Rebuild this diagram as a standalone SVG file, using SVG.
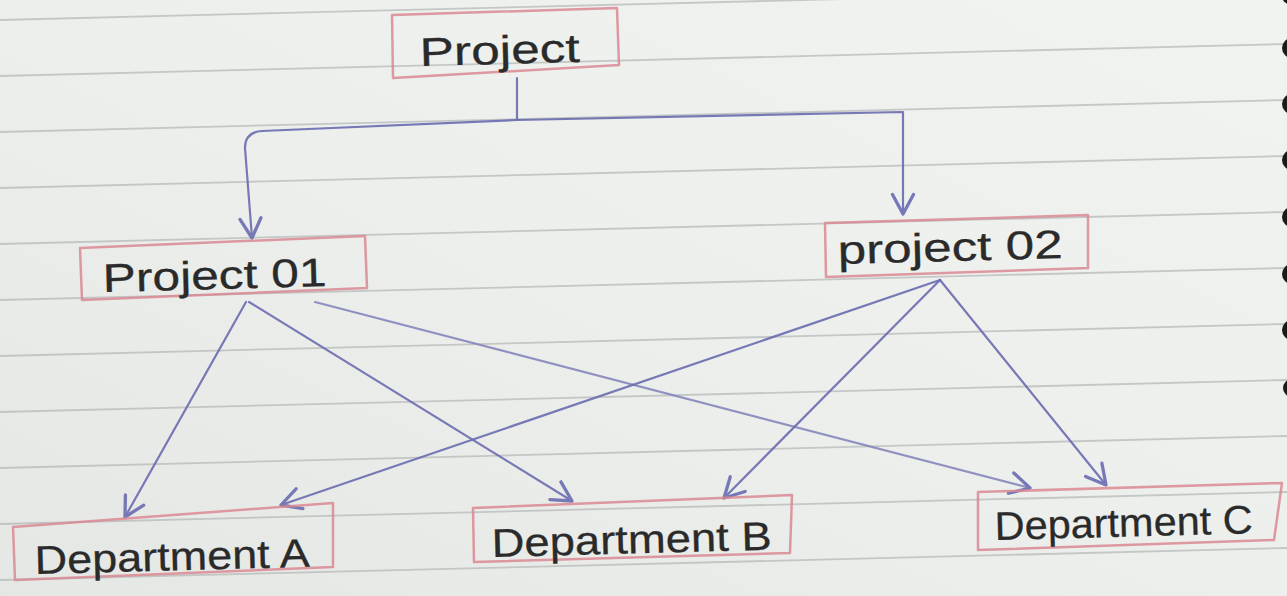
<svg xmlns="http://www.w3.org/2000/svg" width="1287" height="596" viewBox="0 0 1287 596">
  <defs>
    <linearGradient id="paper" x1="0" y1="1" x2="1" y2="0">
      <stop offset="0" stop-color="#e5e7e4"/>
      <stop offset="0.5" stop-color="#edefec"/>
      <stop offset="1" stop-color="#f1f3f0"/>
    </linearGradient>
    <marker id="vhead" markerUnits="userSpaceOnUse" markerWidth="30" markerHeight="30" viewBox="-16 -10 20 20" refX="0" refY="0" orient="auto">
      <path d="M-13,-7 L0,0 L-13,7" fill="none" stroke="#6a6db0" stroke-width="2.2" stroke-linecap="round" stroke-linejoin="round"/>
    </marker>
    <style>
      .rule { stroke: #b6bab9; stroke-width: 1.8; opacity: 0.75; }
      .box { fill: none; stroke: #d98893; stroke-width: 2.5; stroke-linejoin: round; opacity: 0.85; }
      .label { font-family: "Liberation Sans", Arial, sans-serif; font-size: 40px; fill: #2a2a2a; stroke: #2a2a2a; stroke-width: 0.3; }
      .ink { fill: none; stroke: #6a6db0; stroke-width: 2.2; stroke-linecap: round; stroke-linejoin: round; opacity: 0.9; }
      .ink-light { stroke: #8587bd; }
      .hole { fill: #1b1b1b; }
    </style>
  </defs>

  <!-- notebook page -->
  <rect x="0" y="0" width="1287" height="596" fill="url(#paper)"/>

  <!-- ruled lines, slightly tilted with the page -->
  <g id="ruling">
    <line class="rule" x1="0" y1="20" x2="1287" y2="-12"/>
    <line class="rule" x1="0" y1="76" x2="1287" y2="44"/>
    <line class="rule" x1="0" y1="132" x2="1287" y2="100"/>
    <line class="rule" x1="0" y1="188" x2="1287" y2="156"/>
    <line class="rule" x1="0" y1="244" x2="1287" y2="212"/>
    <line class="rule" x1="0" y1="300" x2="1287" y2="268"/>
    <line class="rule" x1="0" y1="356" x2="1287" y2="324"/>
    <line class="rule" x1="0" y1="412" x2="1287" y2="380"/>
    <line class="rule" x1="0" y1="468" x2="1287" y2="436"/>
    <line class="rule" x1="0" y1="524" x2="1287" y2="492"/>
    <line class="rule" x1="0" y1="580" x2="1287" y2="548"/>
  </g>

  <!-- binding holes along the right edge -->
  <g id="binding">
    <ellipse class="hole" cx="1292" cy="-4" rx="10" ry="9"/>
    <ellipse class="hole" cx="1292" cy="48" rx="10" ry="10"/>
    <ellipse class="hole" cx="1292" cy="104" rx="10" ry="10"/>
    <ellipse class="hole" cx="1292" cy="160" rx="10" ry="10"/>
    <ellipse class="hole" cx="1292" cy="217" rx="10" ry="10"/>
    <ellipse class="hole" cx="1292" cy="274" rx="10" ry="10"/>
    <ellipse class="hole" cx="1292" cy="330" rx="10" ry="10"/>
    <ellipse class="hole" cx="1292" cy="388" rx="9" ry="9"/>
  </g>

  <!-- connectors -->
  <g id="connectors">
    <path class="ink" d="M517,78 L517,120"/>
    <path class="ink" d="M517,120 L262,131 Q245,132 245,148 L252,238" marker-end="url(#vhead)"/>
    <path class="ink" d="M517,120 L903,112 L903,214" marker-end="url(#vhead)"/>

    <path class="ink" d="M246,302 L125,517" marker-end="url(#vhead)"/>
    <path class="ink" d="M249,302 L572,501" marker-end="url(#vhead)"/>
    <path class="ink ink-light" d="M315,302 L1030,488" marker-end="url(#vhead)"/>

    <path class="ink" d="M940,280 L281,505" marker-end="url(#vhead)"/>
    <path class="ink" d="M940,280 L724,498" marker-end="url(#vhead)"/>
    <path class="ink" d="M940,280 L1106,485" marker-end="url(#vhead)"/>
  </g>

  <!-- nodes -->
  <g id="node-project">
    <polygon class="box" points="392,15 617,8 619,65 393,78"/>
    <text class="label" x="420" y="66" textLength="160" lengthAdjust="spacingAndGlyphs" transform="rotate(-1.5 420 66)">Project</text>
  </g>

  <g id="node-project-01">
    <polygon class="box" points="80,248 365,236 367,288 82,300"/>
    <text class="label" x="103" y="292" textLength="224" lengthAdjust="spacingAndGlyphs" transform="rotate(-1.5 103 292)">Project 01</text>
  </g>

  <g id="node-project-02">
    <polygon class="box" points="825,223 1088,215 1088,268 826,277"/>
    <text class="label" x="838" y="264" textLength="225" lengthAdjust="spacingAndGlyphs" transform="rotate(-1.5 838 264)">project 02</text>
  </g>

  <g id="node-department-a">
    <polygon class="box" points="13,527 333,503 333,567 15,580"/>
    <text class="label" x="35" y="574" textLength="275" lengthAdjust="spacingAndGlyphs" transform="rotate(-1.5 35 574)">Department A</text>
  </g>

  <g id="node-department-b">
    <polygon class="box" points="473,508 792,495 790,553 474,562"/>
    <text class="label" x="492" y="557" textLength="280" lengthAdjust="spacingAndGlyphs" transform="rotate(-1.5 492 557)">Department B</text>
  </g>

  <g id="node-department-c">
    <polygon class="box" points="978,492 1282,483 1274,540 978,550"/>
    <text class="label" x="995" y="540" textLength="258" lengthAdjust="spacingAndGlyphs" transform="rotate(-1.5 995 540)">Department C</text>
  </g>
</svg>
